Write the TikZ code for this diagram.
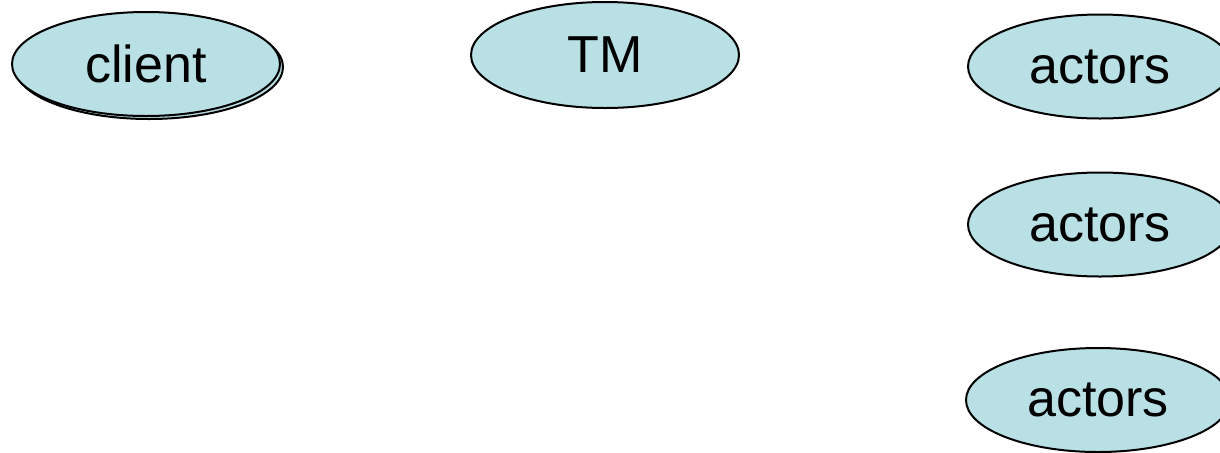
\documentclass[tikz,border=0pt]{standalone}
\usepackage{fontspec}
\setmainfont{Liberation Sans}
\usetikzlibrary{shapes.geometric,shadows}
\definecolor{PaleCyan}{RGB}{185,224,228}
\tikzset{
  blob/.style ={ellipse, draw=black, line width=1pt, fill=PaleCyan,
                minimum width=134pt, minimum height=52pt, inner sep=0pt,
                font=\fontsize{26pt}{30pt}\selectfont},
  blobtwin/.style ={blob, copy shadow={shadow xshift=1.5pt, shadow yshift=-1.5pt}},
}
\begin{document}
\begin{tikzpicture}[x=1pt,y=1pt]
  \useasboundingbox (0,0) rectangle (610,226);
  \node[blobtwin] (client) at (73,194) {client};
  \node[blob,minimum height=53pt] (tm) at (302.5,198.5) {TM};
  \node[blob,minimum width=132pt] (act1) at (550,192.75) {actors};
  \node[blob,minimum width=132pt] (act2) at (550,113.75) {actors};
  \node[blob,minimum width=132pt] (act3) at (549,26) {actors};
\end{tikzpicture}
\end{document}
